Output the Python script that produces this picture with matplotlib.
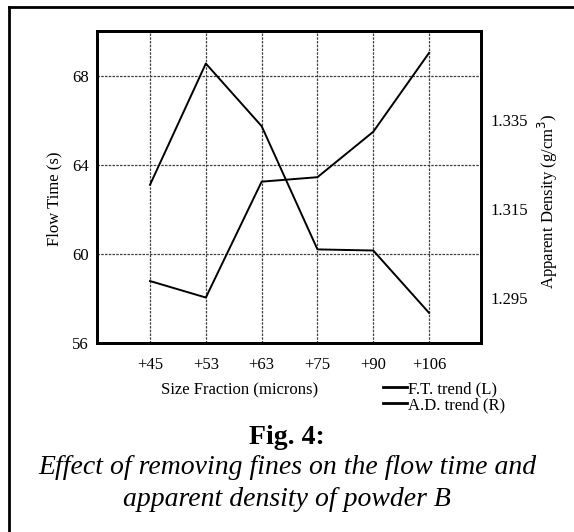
import matplotlib.pyplot as plt
from matplotlib.lines import Line2D

# data
fractions = ["+45", "+53", "+63", "+75", "+90", "+106"]
flow_time = [63.1, 68.54, 65.73, 60.2, 60.15, 57.35]          # left axis (s)
app_density = [1.2989, 1.2952, 1.3212, 1.3222, 1.3324, 1.3501]  # right axis (g/cm3)
left_ticks = [56, 60, 64, 68]
right_ticks = [1.295, 1.315, 1.335]

plt.rcParams["font.family"] = ["Liberation Serif", "DejaVu Serif"]

fig = plt.figure(figsize=(5.74, 5.32), dpi=100)
ax = fig.add_axes([97 / 574, 1 - 343 / 532, 384 / 574, 312 / 532])

x = list(range(1, len(fractions) + 1))
ax.plot(x, flow_time, color="black", lw=1.4)
ax.set_xlim(0.05, 6.93)
ax.set_ylim(56, 70)
ax.set_xticks(x)
ax.set_xticklabels(fractions, fontsize=12)
ax.set_yticks(left_ticks)
ax.set_yticklabels([str(t) for t in left_ticks], fontsize=12)
ax.tick_params(axis="both", length=0)
ax.tick_params(axis="x", pad=10)
ax.tick_params(axis="y", pad=6)
ax.grid(True, color="0.25", lw=0.9, linestyle=(0, (2, 1)))
for s in ax.spines.values():
    s.set_linewidth(2)

ax2 = ax.twinx()
ax2.plot(x, app_density, color="black", lw=1.4)
ax2.set_ylim(1.285, 1.355)
ax2.set_yticks(right_ticks)
ax2.set_yticklabels(["%.3f" % t for t in right_ticks], fontsize=12)
ax2.tick_params(axis="y", length=0, pad=7)
for s in ax2.spines.values():
    s.set_linewidth(2)

# axis titles
fig.text(54 / 574, 1 - 199 / 532, "Flow Time (s)", rotation=90, fontsize=12,
         ha="center", va="center")
fig.text(548 / 574, 1 - 201 / 532, "Apparent Density (g/cm$^3$)", rotation=90,
         fontsize=12, ha="center", va="center")
fig.text(240 / 574, 1 - 390 / 532, "Size Fraction (microns)", fontsize=12,
         ha="center", va="center")

# legend
handles = [Line2D([], [], color="black", lw=2), Line2D([], [], color="black", lw=2)]
fig.legend(handles, ["F.T. trend (L)", "A.D. trend (R)"], loc="upper left",
           bbox_to_anchor=(383 / 574, 1 - 381 / 532), frameon=False, fontsize=12,
           handlelength=1.45, handletextpad=0.05, labelspacing=0.0, borderpad=0,
           borderaxespad=0)

# caption
fig.text(287 / 574, 1 - 438 / 532, "Fig. 4:", fontsize=20, fontweight="bold",
         ha="center", va="center")
fig.text(287 / 574, 1 - 468 / 532, "Effect of removing fines on the flow time and",
         fontsize=20, style="italic", ha="center", va="center")
fig.text(287 / 574, 1 - 499 / 532, "apparent density of powder B",
         fontsize=20, style="italic", ha="center", va="center")

# outer frame (top and left edges only visible)
fig.add_artist(Line2D([9 / 574, 1], [1 - 7 / 532] * 2, color="black", lw=2,
                      transform=fig.transFigure))
fig.add_artist(Line2D([9 / 574] * 2, [0, 1 - 7 / 532], color="black", lw=2,
                      transform=fig.transFigure))

fig.savefig("out.png", dpi=100)
